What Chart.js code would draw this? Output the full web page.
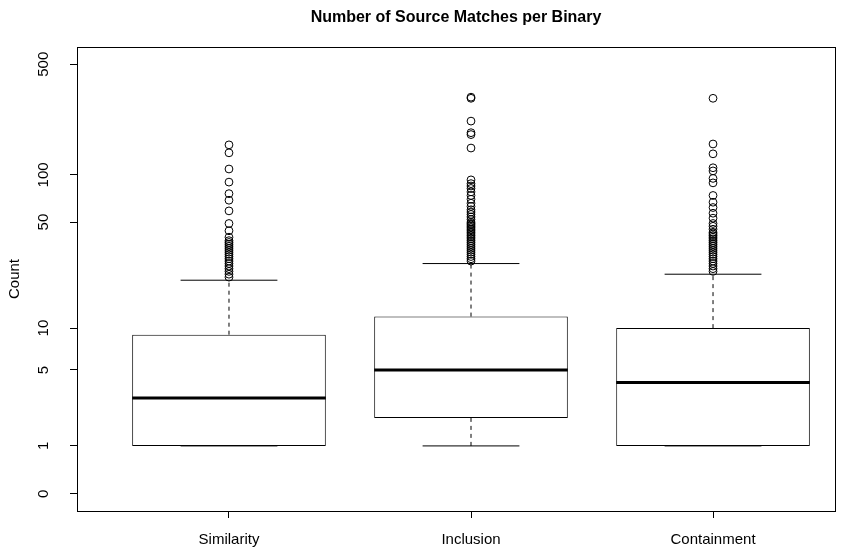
<!DOCTYPE html>
<html>
<head>
<meta charset="utf-8">
<title>Number of Source Matches per Binary</title>
<script src="https://cdn.jsdelivr.net/npm/chart.js@4.4.1/dist/chart.umd.min.js"></script>
<style>
  body { margin: 0; background: #fff; }
  #wrap { width: 855px; height: 552px; }
</style>
</head>
<body>
<div id="wrap"><canvas id="boxcanvas" width="855" height="552"></canvas></div>
<script>
// box statistics (raw counts, plotted on a log(1 + x) axis)
var categories = ["Similarity", "Inclusion", "Containment"];
var lowerWhisker = [1, 1, 1];
var q1 = [1, 2, 1];
var median = [3, 5, 4];
var q3 = [9, 12, 10];
var upperWhisker = [21, 27, 23];

var simOutliers = [22, 23, 24, 25, 26, 27, 28, 29, 30, 31, 32, 33, 34, 35, 36, 37, 38, 40, 44, 49, 59, 69, 76, 90, 109, 138, 155];
var incOutliers = [28, 29, 30, 31, 32, 33, 34, 35, 36, 37, 38, 39, 40, 41, 42, 43, 44, 45, 46, 47, 48, 49, 50, 52, 54, 56, 58, 60, 63, 66, 70, 74, 78, 82, 85, 88, 93, 148, 180, 185, 219, 305, 310];
var conOutliers = [24, 25, 26, 27, 28, 29, 30, 31, 32, 33, 34, 35, 36, 37, 38, 39, 40, 41, 42, 43, 45, 47, 49, 53, 57, 62, 67, 74, 89, 95, 106, 111, 136, 157, 305];
var outliers = [simOutliers, incOutliers, conOutliers];

var yTickValues = [0, 1, 5, 10, 50, 100, 500];
var yTickLabels = ["0", "1", "5", "10", "50", "100", "500"];

function L(v) { return Math.log1p(v); }

Chart.defaults.font.family = "'Liberation Sans', Arial, sans-serif";
Chart.defaults.color = "#000";

// build the marks from the arrays above
var boxData = [], whiskerData = [], capData = [], medianData = [], outlierData = [];
for (var i = 0; i < categories.length; i++) {
    var x = i + 1;
    boxData.push({ x: x, y: [L(q1[i]), L(q3[i])] });

    whiskerData.push({ x: x, y: L(q3[i]) }, { x: x, y: L(upperWhisker[i]) }, { x: x, y: null });
    if (lowerWhisker[i] < q1[i]) {
        whiskerData.push({ x: x, y: L(q1[i]) }, { x: x, y: L(lowerWhisker[i]) }, { x: x, y: null });
    }

    capData.push({ x: x - 0.2, y: L(upperWhisker[i]) }, { x: x + 0.2, y: L(upperWhisker[i]) }, { x: x, y: null });
    capData.push({ x: x - 0.2, y: L(lowerWhisker[i]) }, { x: x + 0.2, y: L(lowerWhisker[i]) }, { x: x, y: null });

    medianData.push({ x: x - 0.4, y: L(median[i]) }, { x: x + 0.4, y: L(median[i]) }, { x: x, y: null });

    for (var j = 0; j < outliers[i].length; j++) {
        outlierData.push({ x: x, y: L(outliers[i][j]) });
    }
}

// frame + title, R style
var framePlugin = {
    id: "frame",
    afterDraw: function (chart) {
        var a = chart.chartArea, c = chart.ctx;
        c.save();
        c.strokeStyle = "#000";
        c.lineWidth = 1;
        c.strokeRect(Math.round(a.left) + 0.5, Math.round(a.top) + 0.5, Math.round(a.right - a.left), Math.round(a.bottom - a.top));
        c.fillStyle = "#000";
        c.font = "bold 16px 'Liberation Sans', Arial, sans-serif";
        c.textAlign = "center";
        c.textBaseline = "middle";
        c.fillText("Number of Source Matches per Binary", (a.left + a.right) / 2, 18);
        c.restore();
    }
};

var ctx = document.getElementById("boxcanvas");

var chart = new Chart(ctx, {
    type: "bar",
    data: {
        datasets: [
            {
                label: "outliers",
                type: "scatter",
                data: outlierData,
                pointStyle: "circle",
                pointRadius: 3.9,
                borderColor: "#000",
                borderWidth: 1,
                backgroundColor: "rgba(0,0,0,0)",
                order: 0
            },
            {
                label: "median",
                type: "line",
                data: medianData,
                borderColor: "#000",
                borderWidth: 3,
                pointRadius: 0,
                fill: false,
                spanGaps: false,
                order: 1
            },
            {
                label: "caps",
                type: "line",
                data: capData,
                borderColor: "#000",
                borderWidth: 1,
                pointRadius: 0,
                fill: false,
                spanGaps: false,
                order: 2
            },
            {
                label: "whiskers",
                type: "line",
                data: whiskerData,
                borderColor: "#000",
                borderWidth: 1,
                borderDash: [4, 4],
                pointRadius: 0,
                fill: false,
                spanGaps: false,
                order: 3
            },
            {
                label: "box",
                data: boxData,
                backgroundColor: "#fff",
                borderColor: "#000",
                borderWidth: 1,
                borderSkipped: false,
                barPercentage: 0.8,
                categoryPercentage: 1,
                order: 4
            }
        ]
    },
    options: {
        responsive: false,
        animation: false,
        layout: { padding: { top: 47, right: 20, left: 0, bottom: 0 } },
        plugins: {
            legend: { display: false },
            tooltip: { enabled: false },
            title: { display: false }
        },
        scales: {
            x: {
                type: "linear",
                min: 0.372,
                max: 3.504,
                offset: false,
                afterBuildTicks: function (scale) {
                    scale.ticks = categories.map(function (c, k) { return { value: k + 1 }; });
                },
                afterFit: function (scale) { scale.height = 41; },
                ticks: {
                    autoSkip: false,
                    maxRotation: 0,
                    padding: 13,
                    font: { size: 15 },
                    callback: function (value, index) { return categories[index]; }
                },
                grid: { drawOnChartArea: false, drawTicks: true, tickLength: 7, color: "#000", offset: false },
                border: { display: false }
            },
            y: {
                type: "linear",
                min: -0.2487,
                max: 6.466,
                afterBuildTicks: function (scale) {
                    scale.ticks = yTickValues.map(function (v) { return { value: L(v) }; });
                },
                afterFit: function (scale) { scale.width = 77; },
                ticks: {
                    autoSkip: false,
                    minRotation: 90,
                    maxRotation: 90,
                    crossAlign: "center",
                    padding: 14,
                    font: { size: 15 },
                    callback: function (value, index) { return yTickLabels[index]; }
                },
                grid: { drawOnChartArea: false, drawTicks: true, tickLength: 7, color: "#000" },
                border: { display: false },
                title: {
                    display: true,
                    text: "Count",
                    font: { size: 15 },
                    padding: { top: 6, bottom: 0 }
                }
            }
        }
    },
    plugins: [framePlugin]
});
</script>
</body>
</html>
